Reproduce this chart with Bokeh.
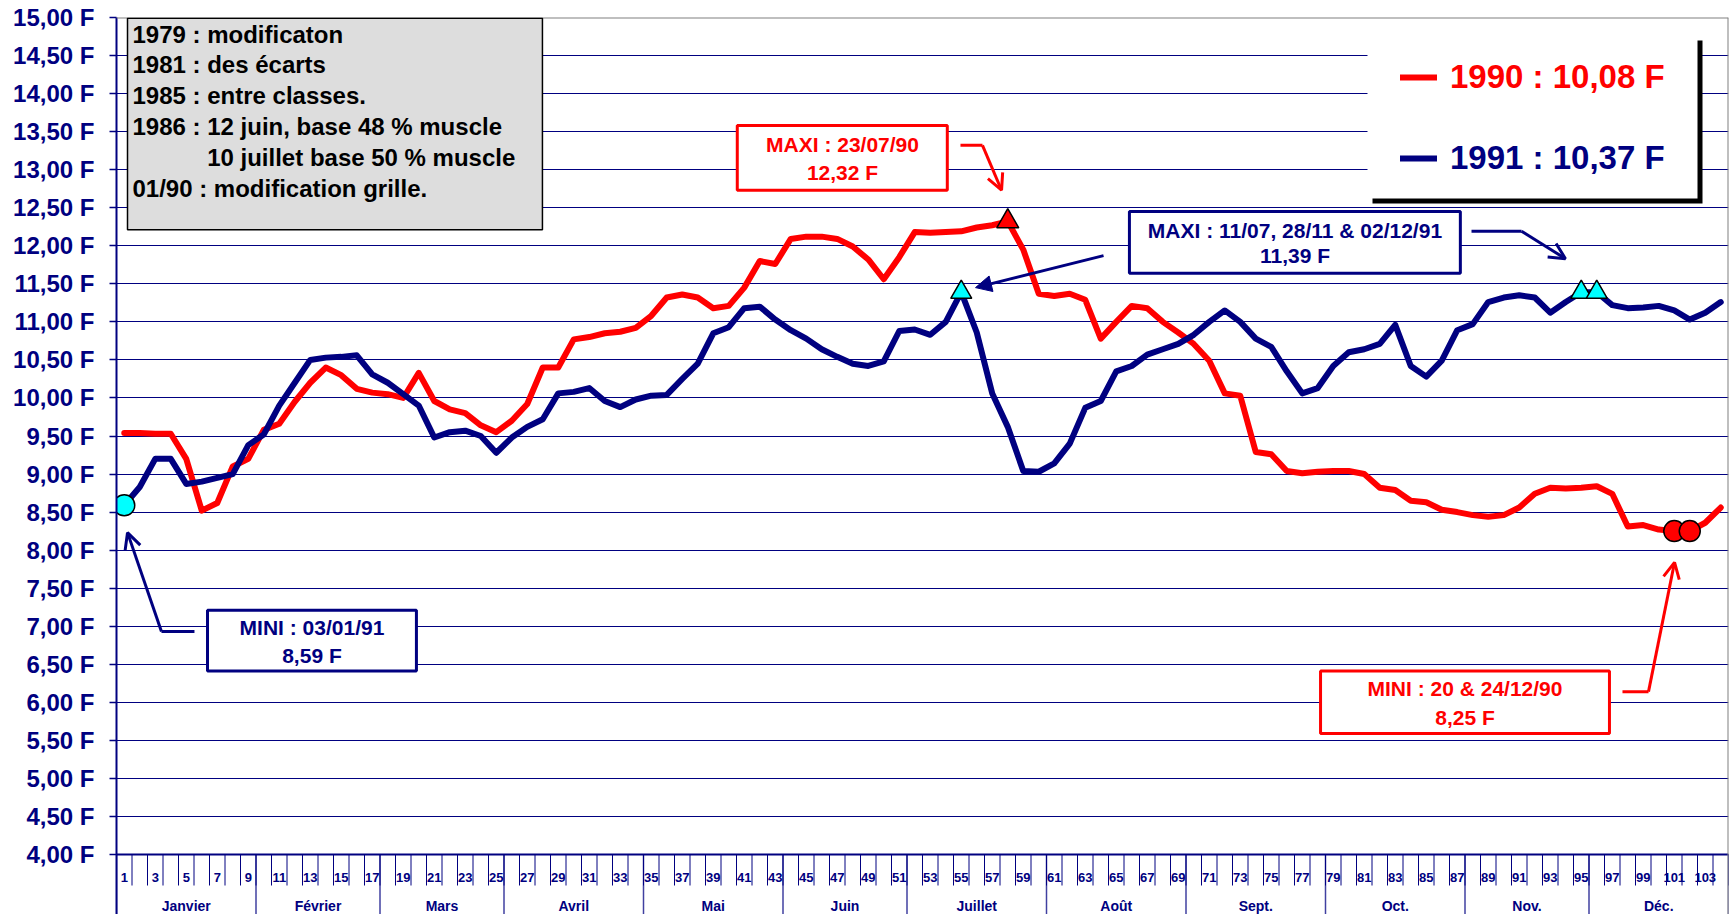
from bokeh.plotting import figure
from bokeh.models import (Range1d, LinearAxis, FixedTicker, CustomJSTickFormatter, Grid,
                          BoxAnnotation, Label, Legend, LegendItem, Arrow, OpenHead, NormalHead, Span)
from bokeh.embed import file_html
from bokeh.resources import INLINE
from bokeh.core.properties import value

# ------------------------------------------------------------------ data
semaines = list(range(1, 105))

prix_1990 = [9.54, 9.54, 9.53, 9.53, 9.20, 8.52, 8.62, 9.10, 9.20, 9.58,
             9.66, 9.95, 10.20, 10.40, 10.30, 10.12, 10.07, 10.05, 10.00, 10.33,
             9.96, 9.85, 9.80, 9.64, 9.55, 9.70, 9.92, 10.40, 10.40, 10.77,
             10.80, 10.85, 10.87, 10.92, 11.08, 11.32, 11.36, 11.32, 11.18, 11.21,
             11.45, 11.80, 11.76, 12.09, 12.12, 12.12, 12.09, 11.99, 11.82, 11.56,
             11.85, 12.18, 12.17, 12.18, 12.19, 12.24, 12.27, 12.32, 11.95, 11.37,
             11.34, 11.37, 11.29, 10.78, 11.00, 11.21, 11.18, 11.00, 10.86, 10.71,
             10.49, 10.06, 10.03, 9.29, 9.26, 9.04, 9.01, 9.03, 9.04, 9.04,
             9.00, 8.82, 8.79, 8.65, 8.63, 8.53, 8.50, 8.46, 8.44, 8.46,
             8.56, 8.74, 8.82, 8.81, 8.82, 8.84, 8.74, 8.31, 8.33, 8.27,
             8.25, 8.25, 8.36, 8.56]

prix_1991 = [8.59, 8.83, 9.20, 9.20, 8.87, 8.90, 8.95, 9.00, 9.38, 9.52,
             9.90, 10.20, 10.50, 10.53, 10.54, 10.56, 10.31, 10.20, 10.05, 9.90,
             9.48, 9.55, 9.57, 9.50, 9.28, 9.48, 9.62, 9.72, 10.06, 10.08,
             10.13, 9.96, 9.88, 9.98, 10.03, 10.04, 10.25, 10.45, 10.85, 10.93,
             11.18, 11.20, 11.03, 10.89, 10.78, 10.64, 10.54, 10.45, 10.42, 10.48,
             10.88, 10.90, 10.83, 11.00, 11.39, 10.86, 10.06, 9.62, 9.04, 9.03,
             9.14, 9.40, 9.87, 9.96, 10.35, 10.42, 10.57, 10.64, 10.71, 10.83,
             11.00, 11.15, 11.00, 10.78, 10.67, 10.35, 10.06, 10.13, 10.42, 10.60,
             10.64, 10.71, 10.96, 10.42, 10.28, 10.49, 10.89, 10.97, 11.26, 11.32,
             11.35, 11.32, 11.12, 11.26, 11.39, 11.39, 11.22, 11.18, 11.19, 11.21,
             11.15, 11.03, 11.12, 11.26]

y_ticks = [4.0, 4.5, 5.0, 5.5, 6.0, 6.5, 7.0, 7.5, 8.0, 8.5, 9.0, 9.5, 10.0,
           10.5, 11.0, 11.5, 12.0, 12.5, 13.0, 13.5, 14.0, 14.5, 15.0]
y_tick_labels = ["4,00 F", "4,50 F", "5,00 F", "5,50 F", "6,00 F", "6,50 F", "7,00 F",
                 "7,50 F", "8,00 F", "8,50 F", "9,00 F", "9,50 F", "10,00 F", "10,50 F",
                 "11,00 F", "11,50 F", "12,00 F", "12,50 F", "13,00 F", "13,50 F",
                 "14,00 F", "14,50 F", "15,00 F"]

semaines_etiquettes = list(range(1, 104, 2))
mois = ["Janvier", "Février", "Mars", "Avril", "Mai", "Juin", "Juillet",
        "Août", "Sept.", "Oct.", "Nov.", "Déc."]
mois_derniere_semaine = [9, 17, 25, 34, 43, 51, 60, 69, 78, 87, 95, 104]

legende = ["1990 : 10,08 F", "1991 : 10,37 F"]

note_lignes = ["1979 : modificaton", "1981 : des écarts", "1985 : entre classes.",
               "1986 : 12 juin, base 48 % muscle", "10 juillet base 50 % muscle",
               "01/90 : modification grille."]

maxi_1990_sem = [58]
mini_1990_sem = [101, 102]
maxi_1991_sem = [55, 95, 96]
mini_1991_sem = [1]

# ------------------------------------------------------------------ layout
NAVY = "#000080"
RED = "#FF0000"
FONT = "Liberation Sans"
W, H = 1734, 914
LEFT, TOP = 116, 17
FRAME_W = 1612
FRAME_H = H - TOP
PXU = 837 / 11.0              # pixels per franc
Y_BOTTOM = 15 - FRAME_H / PXU
SLOT = FRAME_W / 104.0
OFF = 0                       # page offset of the canvas


def py(px):
    return px / PXU


def sx2d(sx):   # screen x -> data x
    return 0.5 + (sx - (LEFT + OFF)) / SLOT


def sy2d(sy):   # screen y -> data y
    return 15 - (sy - (TOP + OFF)) / PXU


p = figure(frame_width=FRAME_W, frame_height=FRAME_H,
           min_border_left=LEFT, min_border_right=W - LEFT - FRAME_W,
           min_border_top=TOP, min_border_bottom=0,
           x_range=Range1d(0.5, 104.5), y_range=Range1d(Y_BOTTOM, 15),
           x_axis_type=None, y_axis_type=None,
           output_backend="svg", toolbar_location=None)
p.outline_line_color = None
p.background_fill_color = "white"
p.border_fill_color = "white"

ticker = FixedTicker(ticks=y_ticks, minor_ticks=[])
yaxis = LinearAxis(ticker=ticker,
                   formatter=CustomJSTickFormatter(
                       args=dict(vals=y_ticks, labs=y_tick_labels),
                       code="const i = vals.findIndex(v => Math.abs(v - tick) < 1e-6); return i >= 0 ? labs[i] : '';"))
yaxis.axis_line_color = NAVY
yaxis.axis_line_width = 2
yaxis.major_tick_line_color = NAVY
yaxis.major_tick_line_width = 1.5
yaxis.major_tick_out = 7
yaxis.major_tick_in = 0
yaxis.minor_tick_line_color = None
yaxis.major_label_standoff = 15
yaxis.major_label_text_font = FONT
yaxis.major_label_text_font_style = "bold"
yaxis.major_label_text_font_size = "24px"
yaxis.major_label_text_color = NAVY
p.add_layout(yaxis, "left")

grid = Grid(dimension=1, ticker=ticker, grid_line_color=NAVY, grid_line_width=1)
p.add_layout(grid, "center")

# frame borders (grey, top & right)
p.add_layout(Span(location=15, dimension="width", line_color="#808080", line_width=2))
p.add_layout(Span(location=104.5, dimension="height", line_color="#808080", line_width=2))

# x axis line, week ticks, month separators
p.segment(x0=[0.5], y0=[4], x1=[104.5], y1=[4], line_color=NAVY, line_width=2)
bornes = [k + 0.5 for k in range(0, 105)]
p.segment(x0=bornes, y0=[4] * len(bornes), x1=bornes, y1=[4 - py(31)] * len(bornes),
          line_color=NAVY, line_width=1)
bornes_mois = [0.5] + [m + 0.5 for m in mois_derniere_semaine]
p.segment(x0=bornes_mois, y0=[4] * len(bornes_mois), x1=bornes_mois,
          y1=[Y_BOTTOM] * len(bornes_mois), line_color=NAVY, line_alpha=0.75, line_width=1.5)
p.text(x=semaines_etiquettes, y=[4 - py(23)] * len(semaines_etiquettes),
       text=[str(s) for s in semaines_etiquettes],
       text_font=value(FONT), text_font_style="bold", text_font_size="13px",
       text_color=NAVY, text_align="center", text_baseline="middle")
premiers = [1] + [m + 1 for m in mois_derniere_semaine[:-1]]
centres_mois = [(a + b) / 2 for a, b in zip(premiers, mois_derniere_semaine)]
p.text(x=centres_mois, y=[4 - py(51)] * len(mois), text=mois,
       text_font=value(FONT), text_font_style="bold", text_font_size="14px",
       text_color=NAVY, text_align="center", text_baseline="middle")

# series
r90 = p.line(semaines, prix_1990, line_color=RED, line_width=6, line_join="round", line_cap="round")
r91 = p.line(semaines, prix_1991, line_color=NAVY, line_width=6, line_join="round", line_cap="round")

# extreme markers
p.scatter(maxi_1990_sem, [prix_1990[s - 1] for s in maxi_1990_sem], marker="triangle",
          size=22, fill_color=RED, line_color="black", line_width=1.5)
p.scatter(mini_1990_sem, [prix_1990[s - 1] for s in mini_1990_sem], marker="circle",
          size=21, fill_color=RED, line_color="black", line_width=1.5)
p.scatter(maxi_1991_sem, [prix_1991[s - 1] for s in maxi_1991_sem], marker="triangle",
          size=21, fill_color="#00FFFF", line_color="black", line_width=1.5)
p.scatter(mini_1991_sem, [prix_1991[s - 1] for s in mini_1991_sem], marker="circle",
          size=21, fill_color="#00FFFF", line_color="black", line_width=1.5)


def label(x, y, text, color, size="21px", align="center"):
    p.add_layout(Label(x=x, y=y, text=text, text_color=color, text_font=FONT,
                       text_font_style="bold", text_font_size=size,
                       text_align=align, text_baseline="middle"))


def boite(l, r, t, b, color, fill="white", width=3):
    p.add_layout(BoxAnnotation(left=l, right=r, top=t, bottom=b, fill_color=fill, fill_alpha=1,
                               line_color=color, line_width=width, line_alpha=1))


def fleche(pts, color, head="open"):
    for (xa, ya), (xb, yb) in zip(pts[:-2], pts[1:-1]):
        p.add_layout(Arrow(x_start=xa, y_start=ya, x_end=xb, y_end=yb, end=None,
                           line_color=color, line_width=3))
    (xa, ya), (xb, yb) = pts[-2], pts[-1]
    if head == "open":
        h = OpenHead(size=16, line_color=color, line_width=3)
    else:
        h = NormalHead(size=16, fill_color=color, line_color=color)
    p.add_layout(Arrow(x_start=xa, y_start=ya, x_end=xb, y_end=yb, end=h,
                       line_color=color, line_width=3))


# note box
boite(1.21, 27.98, 14.99, 12.21, "black", fill="#DDDDDD", width=1.5)
note_y = [14.78, 14.38, 13.97, 13.57, 13.16, 12.75]
for i, (t, yv) in enumerate(zip(note_lignes, note_y)):
    label(6.35 if i == 4 else 1.53, yv, t, "black", size="24px", align="left")

# annotation boxes
boite(40.55, 54.1, 13.58, 12.73, RED)
label(47.34, 13.33, "MAXI : 23/07/90", RED)
label(47.34, 12.96, "12,32 F", RED)
fleche([(54.95, 13.32), (56.37, 13.32), (57.6, 12.73)], RED)

boite(65.85, 87.2, 12.45, 11.64, NAVY)
label(76.53, 12.20, "MAXI : 11/07, 28/11 & 02/12/91", NAVY)
label(76.53, 11.87, "11,39 F", NAVY)
fleche([(64.18, 11.87), (55.92, 11.45)], NAVY, head="normal")
fleche([(87.92, 12.19), (91.15, 12.19), (93.98, 11.83)], NAVY)

boite(6.37, 19.85, 7.21, 6.41, NAVY)
label(13.11, 6.98, "MINI : 03/01/91", NAVY)
label(13.11, 6.62, "8,59 F", NAVY)
fleche([(5.53, 6.93), (3.40, 6.93), (1.21, 8.23)], NAVY)

boite(78.18, 96.82, 6.41, 5.59, RED)
label(87.5, 6.18, "MINI : 20 & 24/12/90", RED)
label(87.5, 5.80, "8,25 F", RED)
fleche([(97.66, 6.14), (99.34, 6.14), (101.02, 7.84)], RED)

# legend box with black shadow
p.add_layout(BoxAnnotation(left=sx2d(1372), right=sx2d(1702), top=sy2d(40), bottom=sy2d(203),
                           fill_color="black", fill_alpha=1, line_color=None))
p.add_layout(BoxAnnotation(left=sx2d(1367), right=sx2d(1697), top=sy2d(35), bottom=sy2d(198),
                           fill_color="white", fill_alpha=1, line_color=None))

frame_bottom_screen = OFF + TOP + FRAME_H
for r, txt, col, cy in [(r90, legende[0], RED, 77), (r91, legende[1], NAVY, 158)]:
    lg = Legend(items=[LegendItem(label=txt, renderers=[r])],
                location=(1400 - (LEFT + OFF), frame_bottom_screen - (cy + 20)),
                glyph_width=37, glyph_height=40, label_height=40, label_standoff=13,
                padding=0, margin=0, spacing=0,
                label_text_font=FONT, label_text_font_style="bold",
                label_text_font_size="33px", label_text_color=col,
                background_fill_alpha=0, border_line_color=None)
    p.add_layout(lg, "center")

open("out.html", "w").write(file_html(p, INLINE))
